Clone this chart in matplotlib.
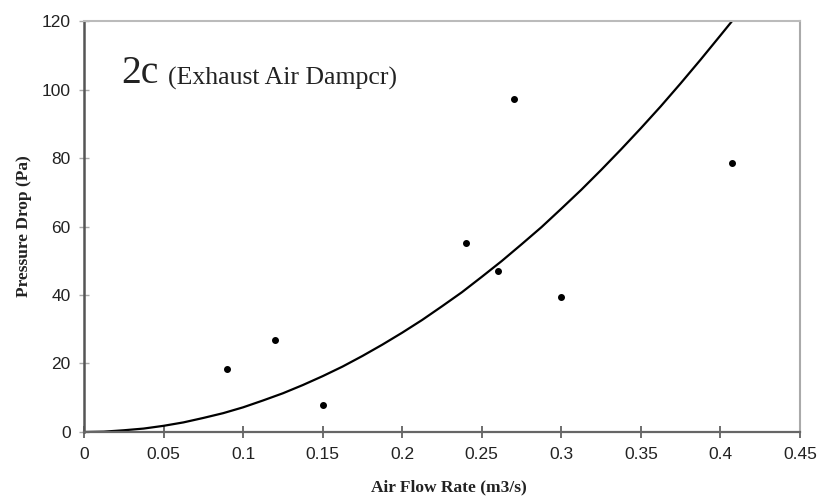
import matplotlib
matplotlib.use('Agg')
import matplotlib.pyplot as plt

# Datos medidos (caudal de aire vs caída de presión)
flow = [0.09, 0.12, 0.15, 0.24, 0.26, 0.27, 0.30, 0.407]
dp = [18.5, 26.8, 8.0, 55.3, 47.1, 97.2, 39.3, 78.5]

# Curva de ajuste
fit_x = [0, 0.0125, 0.025, 0.0375, 0.05, 0.0625, 0.075, 0.0875, 0.1, 0.1125,
         0.125, 0.1375, 0.15, 0.1625, 0.175, 0.1875, 0.2, 0.2125, 0.225, 0.2375,
         0.25, 0.2625, 0.275, 0.2875, 0.3, 0.3125, 0.325, 0.3375, 0.35, 0.3625,
         0.375, 0.3875, 0.4, 0.407]
fit_y = [0, 0.1, 0.5, 1.0, 1.8, 2.8, 4.1, 5.5, 7.2, 9.2,
         11.3, 13.7, 16.3, 19.1, 22.2, 25.5, 29.0, 32.7, 36.7, 40.8,
         45.3, 49.9, 54.8, 59.8, 65.2, 70.7, 76.5, 82.5, 88.7, 95.1,
         101.8, 108.7, 115.8, 119.8]

x_ticks = [0, 0.05, 0.1, 0.15, 0.2, 0.25, 0.3, 0.35, 0.4, 0.45]
x_labels = ['0', '0.05', '0.1', '0.15', '0.2', '0.25', '0.3', '0.35', '0.4', '0.45']
y_ticks = [0, 20, 40, 60, 80, 100, 120]

fig = plt.figure(figsize=(8.2, 4.97), dpi=100)
ax = fig.add_axes([0.1024, 0.1308, 0.8732, 0.8269])

ax.plot(fit_x, fit_y, color='black', linewidth=1.6, solid_joinstyle='round', clip_on=True)
ax.plot(flow, dp, 'o', color='black', markersize=4, linestyle='none')

ax.set_xlim(0, 0.45)
ax.set_ylim(0, 120)
ax.set_xticks(x_ticks)
ax.set_xticklabels(x_labels)
ax.set_yticks(y_ticks)

for lab in ax.get_xticklabels() + ax.get_yticklabels():
    lab.set_fontfamily('Liberation Sans')
    lab.set_fontsize(12.5)
    lab.set_color('#222222')

ax.tick_params(axis='x', direction='inout', length=9, width=1.2, color='#555555', pad=6)
ax.tick_params(axis='y', direction='inout', length=7, width=1.0, color='#aaaaaa', pad=6)

# Ejes: izquierda y abajo oscuros, arriba y derecha claros
ax.spines['left'].set_color('#555555')
ax.spines['left'].set_linewidth(1.8)
ax.spines['bottom'].set_color('#666666')
ax.spines['bottom'].set_linewidth(1.6)
ax.spines['top'].set_color('#bbbbbb')
ax.spines['top'].set_linewidth(1.5)
ax.spines['right'].set_color('#aaaaaa')
ax.spines['right'].set_linewidth(1.5)

ax.set_xlabel('Air Flow Rate (m3/s)', fontfamily='Liberation Serif', fontweight='bold',
              fontsize=12.5, color='#222222')
ax.xaxis.set_label_coords(0.51, -0.115)
ax.set_ylabel('Pressure Drop (Pa)', fontfamily='Liberation Serif', fontweight='bold',
              fontsize=12.5, color='#222222')
ax.yaxis.set_label_coords(-0.072, 0.5)

# Título dentro del gráfico
fig.text(0.1484, 0.8324, '2c', fontfamily='Liberation Serif', fontsize=28.5,
         color='#222222', va='baseline', ha='left')
fig.text(0.2049, 0.8290, '(Exhaust Air Dampcr)', fontfamily='Liberation Serif', fontsize=18.5,
         color='#222222', va='baseline', ha='left')

plt.savefig('out.png', dpi=100)
